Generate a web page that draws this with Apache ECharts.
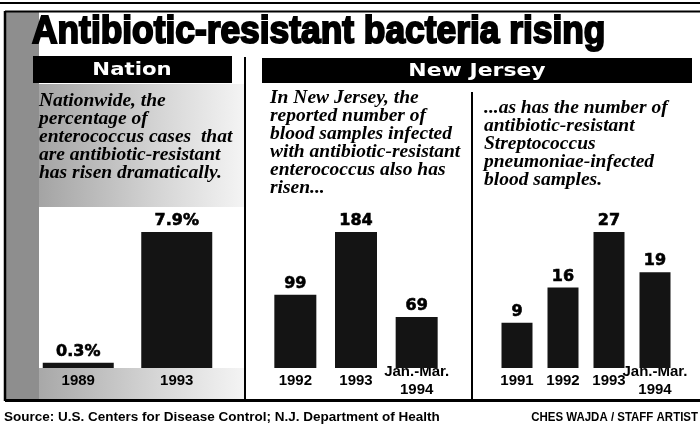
<!DOCTYPE html>
<html lang="en">
<head>
    <meta charset="UTF-8">
    <title>Antibiotic-resistant bacteria rising</title>
    <script src="https://cdn.jsdelivr.net/npm/echarts@6/dist/echarts.min.js"></script>
    <style>
        html, body { margin: 0; padding: 0; background: #fff; }
        #chart { width: 700px; height: 429px; }
    </style>
</head>
<body>
<div id="chart"></div>
<script>
    // ---------- data ----------
    const nationYears = ['1989', '1993'];
    const nationPct = [0.3, 7.9];

    const njYears = ['1992', '1993', 'Jan.-Mar.\n1994'];
    const njEntero = [99, 184, 69];

    const strepYears = ['1991', '1992', '1993', 'Jan.-Mar.\n1994'];
    const njStrep = [9, 16, 27, 19];

    const titleText = 'Antibiotic-resistant bacteria rising';
    const nationNote = 'Nationwide, the\npercentage of\nenterococcus cases  that\nare antibiotic-resistant\nhas risen dramatically.';
    const enteroNote = 'In New Jersey, the\nreported number of\nblood samples infected\nwith antibiotic-resistant\nenterococcus also has\nrisen...';
    const strepNote = '...as has the number of\nantibiotic-resistant\nStreptococcus\npneumoniae-infected\nblood samples.';
    const sourceText = 'Source: U.S. Centers for Disease Control; N.J. Department of Health';
    const creditText = 'CHES WAJDA / STAFF ARTIST';

    const chart = echarts.init(document.getElementById('chart'));

    const grids = [
        { left: 29, top: 232, width: 197, height: 136 },
        { left: 265, top: 232, width: 182, height: 136 },
        { left: 494, top: 232, width: 184, height: 136 }
    ];
    const cats = [nationYears, njYears, strepYears];
    const vals = [nationPct, njEntero, njStrep];
    const barW = [71, 42, 31];

    const serif = 'Liberation Serif';
    const sans = 'Liberation Sans';

    function note(x, y, text) {
        return {
            type: 'text', x: x, y: y, z: 5,
            style: {
                text: text, fill: '#000', fontFamily: serif, fontStyle: 'italic',
                fontWeight: 'bold', fontSize: 19.5, lineHeight: 18, align: 'left', verticalAlign: 'top'
            }
        };
    }
    function line(x1, y1, x2, y2, w) {
        return { type: 'line', z: 4, shape: { x1: x1, y1: y1, x2: x2, y2: y2 }, style: { stroke: '#000', lineWidth: w } };
    }

    const option = {
        backgroundColor: '#fff',
        animation: false,
        grid: grids,
        xAxis: cats.map((c, i) => ({
            type: 'category', gridIndex: i, data: c,
            axisLine: { show: false }, axisTick: { show: false },
            axisLabel: {
                interval: 0, color: '#000', fontFamily: sans, fontWeight: 'bold', fontSize: 15,
                lineHeight: 18, verticalAlign: 'middle', margin: 13
            }
        })),
        yAxis: cats.map((c, i) => ({
            type: 'value', gridIndex: i, min: 0, max: 'dataMax', show: false
        })),
        series: vals.map((v, i) => ({
            type: 'bar', xAxisIndex: i, yAxisIndex: i, data: v, barWidth: barW[i],
            itemStyle: { color: '#141414' },
            label: {
                show: true, position: 'top', distance: 3, color: '#000',
                fontFamily: 'DejaVu Sans', fontWeight: 'bold', fontSize: 16,
                textBorderColor: '#000', textBorderWidth: 0.6,
                formatter: i === 0 ? '{c}%' : '{c}'
            }
        })),
        graphic: { elements: [
            // grey stipple of the Nation panel
            { type: 'rect', z: -1, shape: { x: 5, y: 12, width: 34, height: 388 }, style: { fill: '#8e8e8e' } },
            { type: 'rect', z: -1, shape: { x: 39, y: 84, width: 205, height: 123 },
              style: { fill: new echarts.graphic.LinearGradient(0, 0, 1, 0, [
                  { offset: 0, color: '#a4a4a4' }, { offset: 0.6, color: '#d6d6d6' }, { offset: 1, color: '#f4f4f4' }]) } },
            { type: 'rect', z: -1, shape: { x: 39, y: 368, width: 205, height: 32 },
              style: { fill: new echarts.graphic.LinearGradient(0, 0, 1, 0, [
                  { offset: 0, color: '#a8a8a8' }, { offset: 0.6, color: '#d8d8d8' }, { offset: 1, color: '#f4f4f4' }]) } },

            // rules and frame
            line(0, 3, 700, 3, 2),
            line(5, 11.5, 700, 11.5, 2),
            line(5, 11, 5, 401, 2.5),
            line(5, 400.5, 700, 400.5, 3),
            line(245, 57, 245, 399, 2),
            line(472, 92, 472, 399, 2),

            // title
            { type: 'text', x: 32, y: 33, z: 5, scaleX: 0.93,
              style: { text: titleText, fill: '#000', stroke: '#000', lineWidth: 2,
                       fontFamily: sans, fontWeight: 'bold', fontSize: 38, align: 'left', verticalAlign: 'middle' } },

            // section headers
            { type: 'rect', z: 3, shape: { x: 33, y: 56, width: 199, height: 27 }, style: { fill: '#000' } },
            { type: 'text', x: 132, y: 70, z: 5, scaleX: 1.18,
              style: { text: 'Nation', fill: '#fff', fontFamily: 'DejaVu Sans', fontWeight: 'bold', fontSize: 18,
                       align: 'center', verticalAlign: 'middle' } },
            { type: 'rect', z: 3, shape: { x: 262, y: 58, width: 430, height: 25 }, style: { fill: '#000' } },
            { type: 'text', x: 477, y: 71, z: 5, scaleX: 1.22,
              style: { text: 'New Jersey', fill: '#fff', fontFamily: 'DejaVu Sans', fontWeight: 'bold', fontSize: 18,
                       align: 'center', verticalAlign: 'middle' } },

            // notes
            note(39, 92, nationNote),
            note(270, 89, enteroNote),
            note(484, 99, strepNote),

            // footer
            { type: 'text', x: 4, y: 417, z: 5, scaleX: 1.0,
              style: { text: sourceText, fill: '#000', fontFamily: sans, fontWeight: 'bold', fontSize: 13.5,
                       align: 'left', verticalAlign: 'middle' } },
            { type: 'text', x: 698, y: 417, z: 5, scaleX: 0.85,
              style: { text: creditText, fill: '#000', fontFamily: sans, fontWeight: 'bold', fontSize: 13.5,
                       align: 'right', verticalAlign: 'middle' } }
        ] }
    };

    chart.setOption(option);
</script>
</body>
</html>
